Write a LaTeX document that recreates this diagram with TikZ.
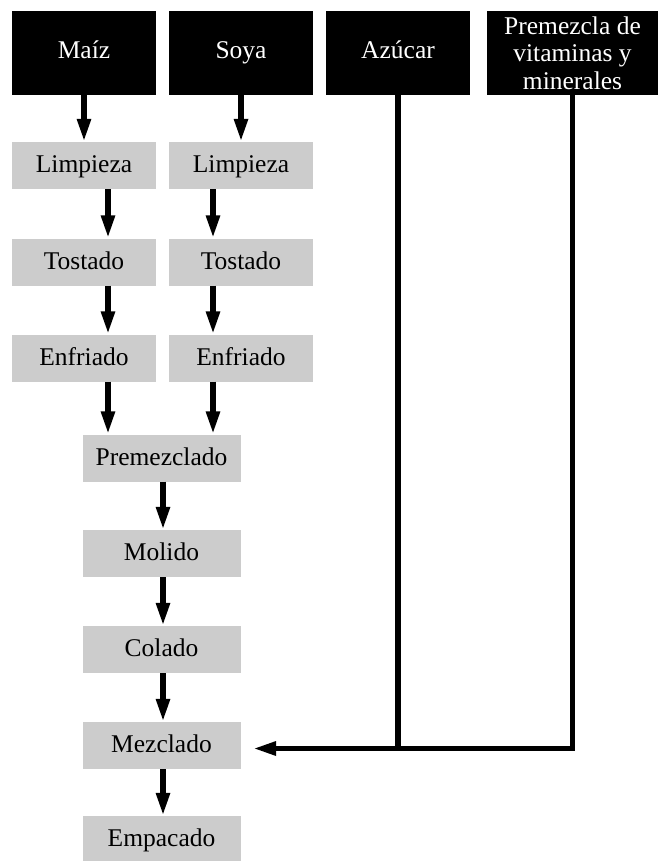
\documentclass[tikz,border=0pt]{standalone}
\usepackage{fontspec}
\setmainfont{Liberation Serif}
\usetikzlibrary{arrows.meta}
\definecolor{boxgrey}{HTML}{CCCCCC}
\tikzset{
  basefont/.style={font=\fontsize{25.5}{27.5}\selectfont},
  src/.style={basefont, fill=black, text=white, inner sep=0pt, minimum width=144pt, minimum height=84pt, text height=17pt, text depth=5pt},
  srcmulti/.style={basefont, fill=black, text=white, inner sep=0pt, minimum width=171pt, minimum height=84pt, align=center},
  stepbox/.style={basefont, fill=boxgrey, text=black, inner sep=0pt, minimum width=144pt, minimum height=47pt, text height=19pt, text depth=5pt},
  widebox/.style={stepbox, minimum width=158pt},
  flow/.style={line width=5.5pt, -{Triangle[length=23pt,width=13pt]}},
  feed/.style={line width=5.5pt, line join=miter},
}
\begin{document}
\begin{tikzpicture}[x=1pt,y=-1pt]
\useasboundingbox (0,0) rectangle (659,861);
% sources
\node[src] (maiz) at (84,53) {Maíz};
\node[src] (soya) at (241,53) {Soya};
\node[src] (azucar) at (398,53) {Azúcar};
\node[srcmulti] (premix) at (572.5,53) {Premezcla de\\vitaminas y\\minerales};
% maiz column
\node[stepbox] (l1) at (84,165.5) {Limpieza};
\node[stepbox] (t1) at (84,262) {Tostado};
\node[stepbox] (e1) at (84,358) {Enfriado};
% soya column
\node[stepbox] (l2) at (241,165.5) {Limpieza};
\node[stepbox] (t2) at (241,262) {Tostado};
\node[stepbox] (e2) at (241,358) {Enfriado};
% main line
\node[widebox] (pm) at (161.5,458) {Premezclado};
\node[widebox] (mo) at (161.5,553.5) {Molido};
\node[widebox] (co) at (161.5,649.5) {Colado};
\node[widebox] (mz) at (161.5,745.5) {Mezclado};
\node[widebox] (em) at (161.5,839.5) {Empacado};
% arrows
\draw[flow] (maiz.south) -- (l1.north);
\draw[flow] (soya.south) -- (l2.north);
\draw[flow] ([xshift=24pt]l1.south) -- ([xshift=24pt]t1.north);
\draw[flow] ([xshift=24pt]t1.south) -- ([xshift=24pt]e1.north);
\draw[flow] ([xshift=-28pt]l2.south) -- ([xshift=-28pt]t2.north);
\draw[flow] ([xshift=-28pt]t2.south) -- ([xshift=-28pt]e2.north);
\draw[flow] ([xshift=24pt]e1.south) -- ([xshift=24pt]e1.south |- pm.north);
\draw[flow] ([xshift=-28pt]e2.south) -- ([xshift=-28pt]e2.south |- pm.north);
\draw[flow] ([xshift=1.5pt]pm.south) -- ([xshift=1.5pt]mo.north);
\draw[flow] ([xshift=1.5pt]mo.south) -- ([xshift=1.5pt]co.north);
\draw[flow] ([xshift=1.5pt]co.south) -- ([xshift=1.5pt]mz.north);
\draw[flow] ([xshift=1.5pt]mz.south) -- ([xshift=1.5pt]em.north);
% feeds into Mezclado
\coordinate (join) at (398,748.5);
\coordinate (tip) at (253,748.5);
\draw[feed] (azucar.south) -- (join);
\draw[feed, -{Triangle[length=23pt,width=13pt]}] (premix.south) |- (tip);
\end{tikzpicture}
\end{document}
